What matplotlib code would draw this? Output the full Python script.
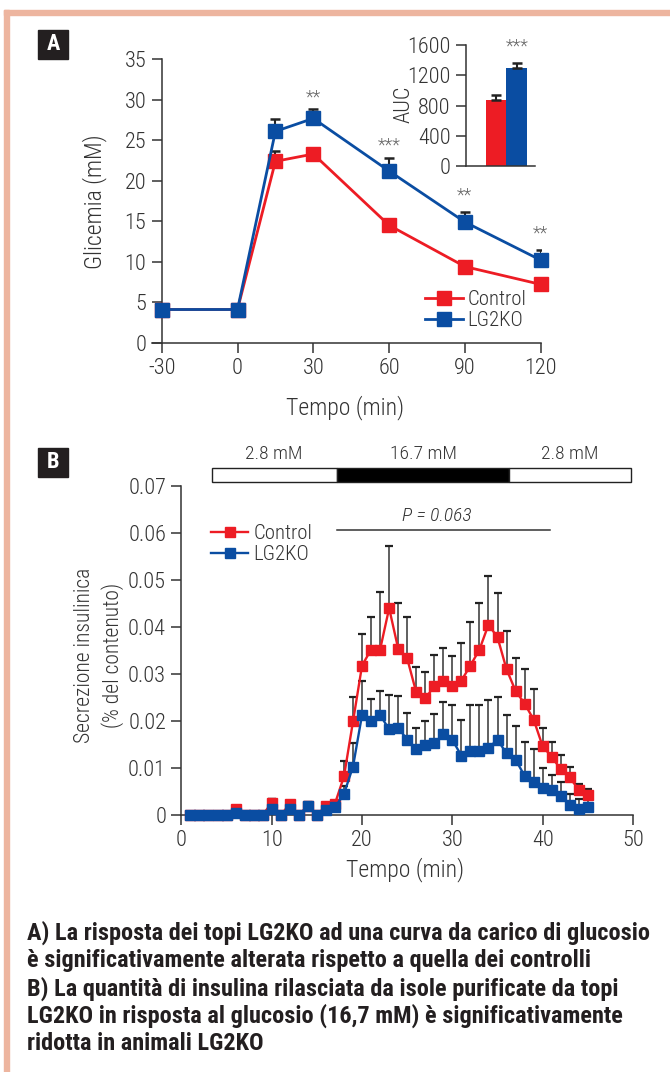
import numpy as np
import matplotlib
matplotlib.use('Agg')
import matplotlib.pyplot as plt
from matplotlib import font_manager
from matplotlib.patches import Rectangle

### Pick a narrow font if one is installed.
avail = {f.name for f in font_manager.fontManager.ttflist}
narrow = next((f for f in ['Roboto Condensed', 'Liberation Sans Narrow', 'DejaVu Sans Condensed'] if f in avail), 'DejaVu Sans')
plt.rcParams['font.family'] = [narrow, 'DejaVu Sans']
plt.rcParams['font.weight'] = 'light'
plt.rcParams['axes.unicode_minus'] = False

RED = '#ED1C24'
BLUE = '#0A4DA2'
GREY = '#333333'
SALMON = '#EDB59F'

### Panel A data: glucose tolerance test.
ogtt_time = [-30, 0, 15, 30, 60, 90, 120]
ogtt_control = [4.1, 4.1, 22.4, 23.3, 14.5, 9.4, 7.2]
ogtt_control_sem = [0.2, 0.2, 1.3, 0.5, 0.5, 0.4, 0.4]
ogtt_ko = [4.1, 4.1, 26.1, 27.7, 21.2, 14.9, 10.2]
ogtt_ko_sem = [0.2, 0.2, 1.5, 1.2, 1.6, 1.3, 1.3]
ogtt_stars = {30: ('**', 30.3), 60: ('***', 24.3), 90: ('**', 18.2), 120: ('**', 13.5)}
ogtt_ticks = [-30, 0, 30, 60, 90, 120]

auc_values = [873, 1292]
auc_sem = [66, 74]

### Panel B data: insulin secretion from perifused islets.
perif_time = list(range(1, 46))
perif_control = [0, 0, 0, 0, 0, 0.0012, 0, 0, 0, 0.0026,
                 0, 0.0023, 0, 0.0019, 0, 0.0019, 0.0024, 0.0082, 0.0199, 0.0318,
                 0.0352, 0.0352, 0.0440, 0.0354, 0.0333, 0.0261, 0.0248, 0.0274, 0.0286, 0.0274,
                 0.0286, 0.0318, 0.0352, 0.0405, 0.0378, 0.0310, 0.0264, 0.0237, 0.0203, 0.0146,
                 0.0124, 0.0097, 0.0080, 0.0053, 0.0042]
perif_control_sem = [0, 0, 0, 0, 0, 0, 0, 0, 0, 0.0007,
                     0, 0.0003, 0, 0.0004, 0, 0.0003, 0.0005, 0.0033, 0.0053, 0.0068,
                     0.0070, 0.0123, 0.0132, 0.0097, 0.0089, 0.0053, 0.0057, 0.0067, 0.0069, 0.0065,
                     0.0081, 0.0092, 0.0099, 0.0103, 0.0094, 0.0081, 0.0069, 0.0073, 0.0066, 0.0040,
                     0.0032, 0.0031, 0.0023, 0.0014, 0.0014]
perif_ko = [0, 0, 0, 0, 0, 0.0004, 0, 0, 0, 0.0013,
            0, 0.0013, 0, 0.0019, 0, 0.0011, 0.0016, 0.0045, 0.0103, 0.0213,
            0.0199, 0.0213, 0.0182, 0.0186, 0.0160, 0.0140, 0.0149, 0.0153, 0.0172, 0.0160,
            0.0126, 0.0137, 0.0137, 0.0143, 0.0160, 0.0131, 0.0118, 0.0083, 0.0071, 0.0058,
            0.0054, 0.0041, 0.0022, 0.0013, 0.0016]
perif_ko_sem = [0, 0, 0, 0, 0, 0, 0, 0, 0, 0.0020,
                0, 0, 0, 0.0009, 0, 0, 0, 0.0017, 0.0051, 0.0073,
                0.0048, 0.0051, 0.0074, 0.0068, 0.0056, 0.0046, 0.0050, 0.0061, 0.0069, 0.0073,
                0.0077, 0.0096, 0.0096, 0.0102, 0.0092, 0.0081, 0.0072, 0.0073, 0.0070, 0.0043,
                0.0032, 0.0030, 0.0023, 0.0020, 0.0017]
glucose_steps = [(3.35, 17.2, '2.8 mM', 'white'), (17.2, 36.3, '16.7 mM', 'black'), (36.3, 49.8, '2.8 mM', 'white')]

caption = ['A) La risposta dei topi LG2KO ad una curva da carico di glucosio',
           'è significativamente alterata rispetto a quella dei controlli',
           'B) La quantità di insulina rilasciata da isole purificate da topi',
           'LG2KO in risposta al glucosio (16,7 mM) è significativamente',
           'ridotta in animali LG2KO']

W, H = 670, 1072
fig = plt.figure(figsize=(W / 100, H / 100), dpi=100)


def fx(px):
    return px / W


def fy(py):
    return 1 - py / H


def style_axes(ax):
    for s in ['top', 'right']:
        ax.spines[s].set_visible(False)
    for s in ['left', 'bottom']:
        ax.spines[s].set_color(GREY)
        ax.spines[s].set_linewidth(1.1)
    ax.tick_params(colors=GREY, labelcolor=GREY, labelsize=16, width=1.1, length=7, pad=4)


### Border of the box.
fig.patches.append(Rectangle((fx(4), fy(15)), 1, fy(10) - fy(15), transform=fig.transFigure, color=SALMON, zorder=0))
fig.patches.append(Rectangle((fx(4), 0), fx(5), fy(10), transform=fig.transFigure, color=SALMON, zorder=0))

### Panel labels.
for lab, top in [('A', 30), ('B', 448)]:
    fig.patches.append(Rectangle((fx(38), fy(top + 29)), fx(30), fy(top) - fy(top + 29),
                                 transform=fig.transFigure, color='#231F20', zorder=1))
    fig.text(fx(53), fy(top + 14.5), lab, color='white', fontsize=16, fontweight='bold', ha='center', va='center')

### Panel A.
axA = fig.add_axes([fx(151.6), fy(342.7), fx(540.7) - fx(151.6), fy(59.3) - fy(342.7)])
style_axes(axA)
axA.spines['left'].set_position(('data', -30))
axA.set_xlim(-34, 120)
axA.set_ylim(0, 35)
axA.set_xticks(ogtt_ticks)
axA.set_yticks(range(0, 36, 5))

zeros = np.zeros(len(ogtt_time))
axA.errorbar(ogtt_time, ogtt_control, yerr=[zeros, ogtt_control_sem], fmt='none', ecolor='#222222',
             elinewidth=1.5, capsize=3.5, capthick=1.8, zorder=2)
axA.errorbar(ogtt_time, ogtt_ko, yerr=[zeros, ogtt_ko_sem], fmt='none', ecolor='#222222',
             elinewidth=1.5, capsize=3.5, capthick=1.8, zorder=2)
axA.plot(ogtt_time, ogtt_control, color=RED, lw=2, marker='s', ms=10.5, label='Control', zorder=3, clip_on=False)
axA.plot(ogtt_time, ogtt_ko, color=BLUE, lw=2, marker='s', ms=10.5, label='LG2KO', zorder=4, clip_on=False)
for t, (s, y) in ogtt_stars.items():
    axA.text(t, y, s, ha='center', va='center', color='#666666', fontsize=13)

axA.legend(loc='upper left', bbox_to_anchor=(fx(425), fy(290)), bbox_transform=fig.transFigure,
           frameon=False, fontsize=15, handlelength=1.8, handletextpad=0.25, labelspacing=0.1,
           borderpad=0, borderaxespad=0, labelcolor=GREY)
fig.text(fx(95), fy(202), 'Glicemia (mM)', rotation=90, ha='center', va='center', fontsize=17, color=GREY)
fig.text(fx(345), fy(408), 'Tempo (min)', ha='center', va='center', fontsize=17, color=GREY)

### AUC inset.
axI = fig.add_axes([fx(466), fy(166), fx(535) - fx(466), fy(45) - fy(166)])
style_axes(axI)
axI.set_xlim(-1.46, 1.9)
axI.set_ylim(0, 1600)
axI.set_yticks(range(0, 1601, 400))
axI.set_xticks([])
axI.bar([0, 1], auc_values, width=1, color=[RED, BLUE], yerr=[[0, 0], auc_sem],
        error_kw=dict(ecolor='#222222', elinewidth=1.5, capsize=3.5, capthick=1.8))
axI.text(1.02, 1574, '***', ha='center', va='center', color='#666666', fontsize=13)
fig.text(fx(404), fy(104), 'AUC', rotation=90, ha='center', va='center', fontsize=16, color=GREY)

### Panel B.
axB = fig.add_axes([fx(181.4), fy(815), fx(633) - fx(181.4), fy(486) - fy(815)])
style_axes(axB)
axB.set_xlim(0, 50)
axB.set_ylim(0, 0.07)
axB.set_xticks(range(0, 51, 10))
axB.set_yticks(np.arange(0, 0.071, 0.01))
axB.set_yticklabels(['0'] + ['%.2f' % v for v in np.arange(0.01, 0.071, 0.01)])

for mean, sem in [(perif_control, perif_control_sem), (perif_ko, perif_ko_sem)]:
    lo = np.zeros(len(mean))
    _, caps, bars = axB.errorbar(perif_time, mean, yerr=[lo, sem], fmt='none', ecolor='#222222',
                                 elinewidth=1.2, capsize=3, capthick=1.6, zorder=2)
    for b in bars:
        b.set_color('#444444')
axB.plot(perif_time, perif_control, color=RED, lw=1.7, marker='s', ms=6.5, label='Control', zorder=3, clip_on=False)
axB.plot(perif_time, perif_ko, color=BLUE, lw=1.7, marker='s', ms=6.5, label='LG2KO', zorder=4, clip_on=False)

### Glucose bar above panel B.
for x0, x1, lab, col in glucose_steps:
    axB.add_patch(Rectangle((x0, 0.0709), x1 - x0, 0.0029, facecolor=col, edgecolor='#222222',
                            lw=1, clip_on=False))
    axB.text((x0 + x1) / 2, 0.0768, lab, ha='center', va='center', fontsize=14, color=GREY)
axB.plot([17.2, 40.8], [0.0607, 0.0607], color=GREY, lw=1.1)
axB.text(28.3, 0.0636, 'P = 0.063', style='italic', ha='center', va='center', fontsize=14, color=GREY)

axB.legend(loc='upper left', bbox_to_anchor=(fx(211), fy(524)), bbox_transform=fig.transFigure,
           frameon=False, fontsize=15, handlelength=1.8, handletextpad=0.25, labelspacing=0.1,
           borderpad=0, borderaxespad=0, labelcolor=GREY)
fig.text(fx(85), fy(655), 'Secrezione insulinica', rotation=90, ha='center', va='center',
         fontsize=15.5, color=GREY)
fig.text(fx(113), fy(655), '(% del contenuto)', rotation=90, ha='center', va='center',
         fontsize=15.5, color=GREY)
fig.text(fx(405), fy(870), 'Tempo (min)', ha='center', va='center', fontsize=17, color=GREY)

### Caption.
for i, line in enumerate(caption):
    fig.text(fx(27), fy(933 + i * 27.7), line, ha='left', va='center', fontsize=17.5, fontweight='bold', color='#231F20')

plt.savefig('out.png', dpi=100)
